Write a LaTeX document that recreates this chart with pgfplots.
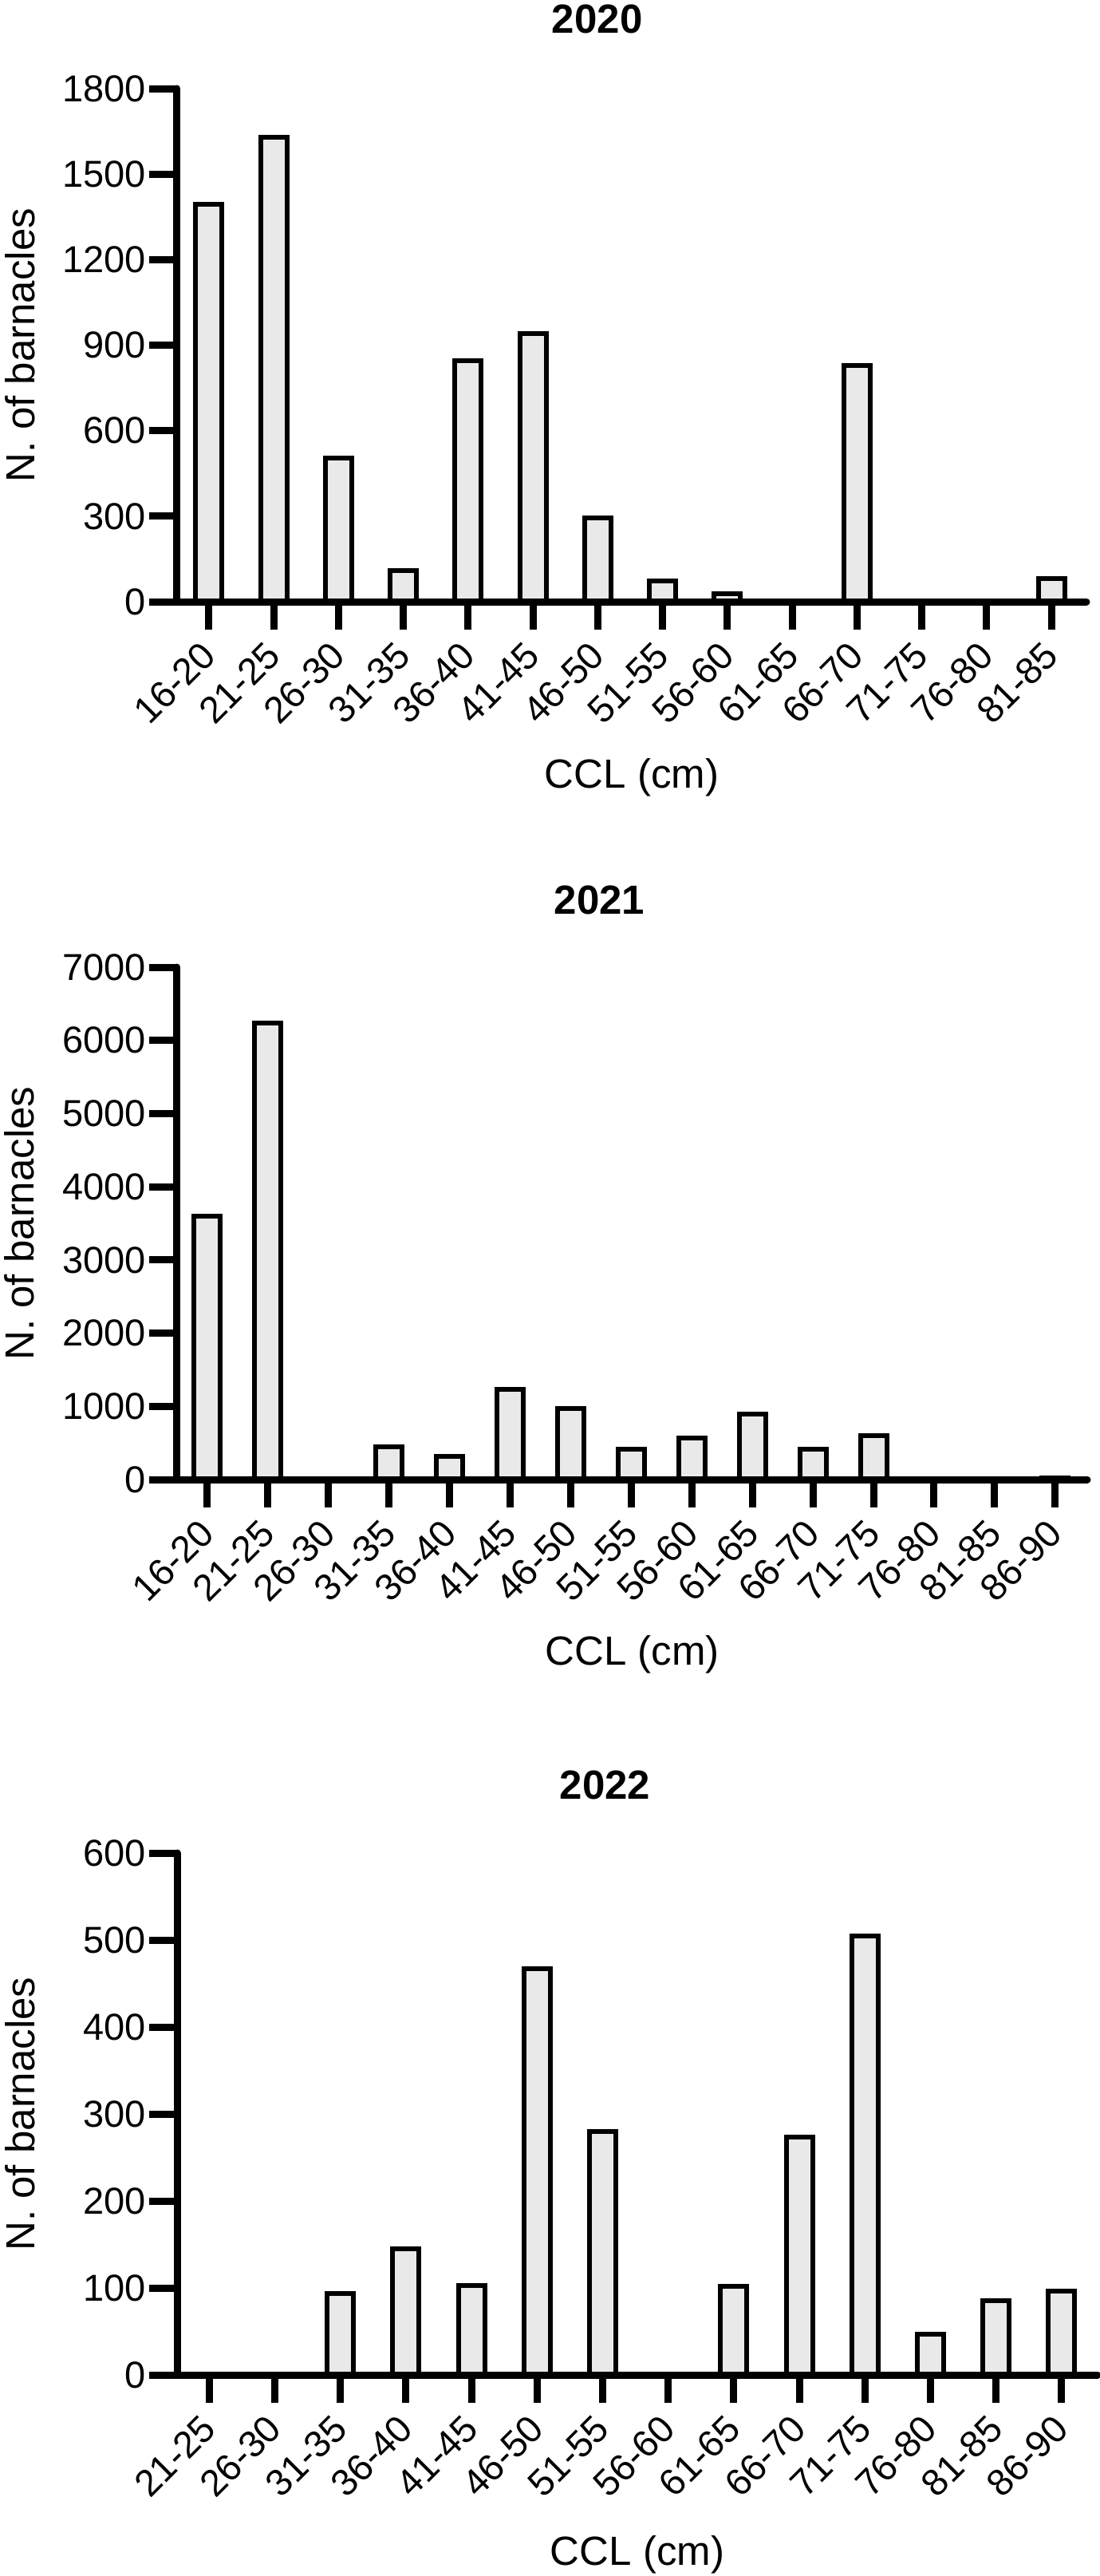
\documentclass[border=0pt]{standalone}
\usepackage{fontspec}
\setmainfont{Liberation Sans}
\usepackage{pgfplots}
\pgfplotsset{compat=1.18}
\definecolor{barfill}{RGB}{233,233,233}
\tikzset{ttl/.style={font=\fontsize{15.3pt}{18pt}\selectfont\bfseries, anchor=center}}
\pgfplotsset{
  every tick/.style={black, line width=2.7pt},
  every outer x axis line/.style={black, line width=2.7pt, line cap=round},
  every outer y axis line/.style={black, line width=2.7pt, line cap=round},
  major tick length=10.5pt,
  gp/.style={
    scale only axis,
    ybar, bar width=9.9pt, bar shift=0pt,
    axis x line*=bottom, axis y line*=left,
    x axis line style={black, line width=2.7pt},
    y axis line style={black, line width=2.7pt},
    xtick style={black, line width=2.7pt},
    ytick style={black, line width=2.7pt},
    major tick length=10.5pt, tick align=outside,
    enlargelimits=false, ymin=0, clip=false, axis on top,
    /pgf/number format/assume math mode=true,
    /pgf/number format/1000 sep={},
    tick label style={font=\fontsize{14.1pt}{16pt}\selectfont},
    yticklabel style={inner sep=0pt, xshift=-1pt},
    xticklabel style={yshift=-7.2pt, rotate=45, anchor=east, inner sep=0pt},
    label style={font=\fontsize{15.3pt}{18pt}\selectfont},
    xlabel={CCL (cm)}, ylabel={N. of barnacles},
  },
  bars/.style={draw=black, fill=barfill, line width=1.8pt},
}
\begin{document}
\begin{tikzpicture}
\path[use as bounding box] (0,0) rectangle (413.4pt,-968.4pt);
% 2020
\begin{axis}[gp, at={(66.6pt,-226.2pt)}, anchor=south west,
  width=342pt, height=192.9pt,
  xmin=-0.49, xmax=13.54, ymax=1800, ytick={0,300,...,1800},
  xtick={0,...,13},
  xticklabels={16-20,21-25,26-30,31-35,36-40,41-45,46-50,51-55,56-60,61-65,66-70,71-75,76-80,81-85},
  ylabel style={at={(axis description cs:-0.157,0.5)}, anchor=base},
  xlabel style={at={(axis description cs:0.5,-0.342)}, anchor=center}]
\addplot[bars] coordinates {(0,1395) (1,1628) (2,505) (3,110) (4,845) (5,940) (6,295) (7,73) (8,27) (9,4) (10,830) (11,0) (12,0) (13,80)};
\node[ttl] at (axis description cs:0.462,1.135) {2020};
\end{axis}
% 2021
\begin{axis}[gp, at={(66.6pt,-556.2pt)}, anchor=south west,
  width=342.3pt, height=192.6pt,
  xmin=-0.5, xmax=14.53, ymax=7000, ytick={0,1000,...,7000},
  xtick={0,...,14},
  xticklabels={16-20,21-25,26-30,31-35,36-40,41-45,46-50,51-55,56-60,61-65,66-70,71-75,76-80,81-85,86-90},
  ylabel style={at={(axis description cs:-0.157,0.5)}, anchor=base},
  xlabel style={at={(axis description cs:0.5,-0.342)}, anchor=center}]
\addplot[bars] coordinates {(0,3600) (1,6240) (2,0) (3,445) (4,320) (5,1235) (6,970) (7,420) (8,565) (9,895) (10,420) (11,600) (12,0) (13,0) (14,25)};
\node[ttl] at (axis description cs:0.464,1.131) {2021};
\end{axis}
% 2022
\begin{axis}[gp, at={(66.6pt,-892.8pt)}, anchor=south west,
  width=346.2pt, height=196.2pt,
  xmin=-0.49, xmax=13.55, ymax=600, ytick={0,100,...,600},
  xtick={0,...,13},
  xticklabels={21-25,26-30,31-35,36-40,41-45,46-50,51-55,56-60,61-65,66-70,71-75,76-80,81-85,86-90},
  ylabel style={at={(axis description cs:-0.155,0.5)}, anchor=base},
  xlabel style={at={(axis description cs:0.5,-0.345)}, anchor=center}]
\addplot[bars] coordinates {(0,0) (1,0) (2,94) (3,145) (4,103) (5,467) (6,280) (7,0) (8,102) (9,273) (10,505) (11,47) (12,85) (13,96)};
\node[ttl] at (axis description cs:0.465,1.13) {2022};
\end{axis}
\end{tikzpicture}
\end{document}
